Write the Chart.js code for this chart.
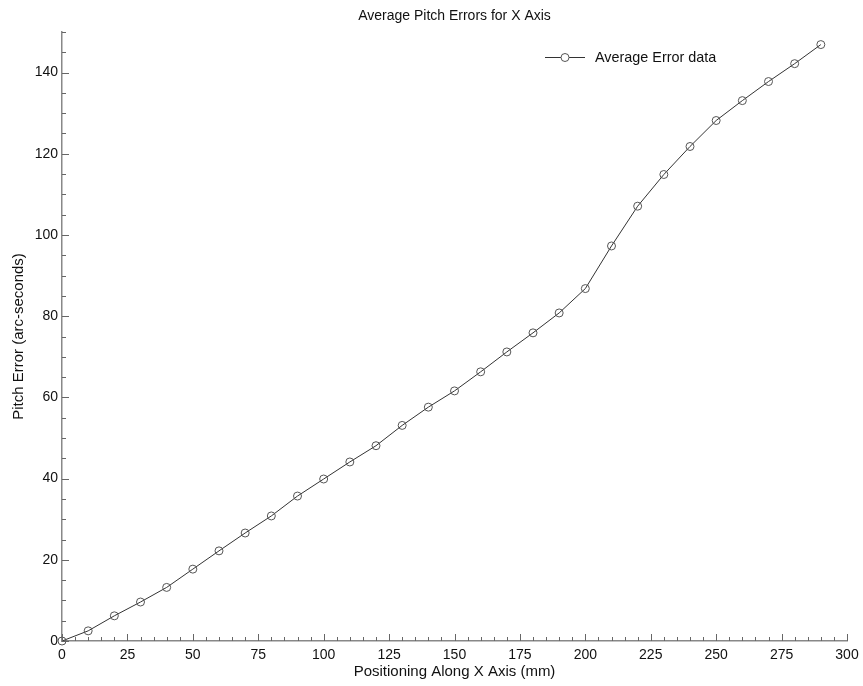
<!DOCTYPE html>
<html>
<head>
<meta charset="utf-8">
<script src="https://cdn.jsdelivr.net/npm/chart.js@4/dist/chart.umd.min.js"></script>
<style>
html,body{margin:0;padding:0;background:#fff;}
#wrap{width:863px;height:686px;}
</style>
</head>
<body>
<div id="wrap"><canvas id="pitchChart"></canvas></div>
<script>
// positions along the axis (mm) and averaged pitch error (arc-seconds)
const positions = [0,10,20,30,40,50,60,70,80,90,100,110,120,130,140,150,160,170,180,190,200,210,220,230,240,250,260,270,280,290];
const pitchErrors = [0,2.5,6.2,9.6,13.2,17.7,22.2,26.6,30.8,35.7,39.9,44.1,48.1,53.1,57.6,61.6,66.3,71.2,75.9,80.8,86.8,97.3,107.1,114.9,121.8,128.2,133.1,137.8,142.2,146.9];
const seriesName = "Average Error data";

const xMajor = 25;   // labelled x ticks
const yMajor = 20;   // labelled y ticks

const FONT = "'Liberation Sans', Arial, sans-serif";

// inward tick marks, long on labelled values, short in between
const tickMarks = {
id:"tickMarks",
afterDraw(chart){
const ctx = chart.ctx;
const a = chart.chartArea;
const xs = chart.scales.x, ys = chart.scales.y;
ctx.save();
ctx.strokeStyle = "#666";
ctx.lineWidth = 1;
ctx.beginPath();
xs.ticks.forEach(t=>{
let px = Math.round(xs.getPixelForValue(t.value)) + 0.5;
let len = (t.value % xMajor === 0) ? 7 : 4;
ctx.moveTo(px, a.bottom);
ctx.lineTo(px, a.bottom - len);
});
ys.ticks.forEach(t=>{
let py = Math.round(ys.getPixelForValue(t.value)) + 0.5;
let len = (t.value % yMajor === 0) ? 7 : 4;
ctx.moveTo(a.left, py);
ctx.lineTo(a.left + len, py);
});
ctx.stroke();
ctx.restore();
}
};

// legend sample in the upper right of the plot
const boxLegend = {
id:"boxLegend",
afterDraw(chart){
const ctx = chart.ctx;
const a = chart.chartArea;
const ds = chart.data.datasets[0];
let x0 = a.right - 302, y = a.top + 25;
ctx.save();
ctx.strokeStyle = ds.borderColor;
ctx.lineWidth = 1;
ctx.beginPath();
ctx.moveTo(x0, y + 0.5);
ctx.lineTo(x0 + 40, y + 0.5);
ctx.stroke();
ctx.fillStyle = "#fff";
ctx.strokeStyle = ds.pointBorderColor;
ctx.beginPath();
ctx.arc(x0 + 20, y + 0.5, ds.pointRadius, 0, Math.PI*2);
ctx.fill();
ctx.stroke();
ctx.fillStyle = "#111";
ctx.font = "14.4px " + FONT;
ctx.textBaseline = "middle";
ctx.textAlign = "left";
ctx.fillText(ds.label, x0 + 50, y + 1);
ctx.restore();
}
};

new Chart(document.getElementById("pitchChart"),{
type:"line",
data:{
datasets:[{
label:seriesName,
data:positions.map((p,i)=>({x:p,y:pitchErrors[i]})),
borderColor:"#333",
borderWidth:1,
pointRadius:4,
pointBorderColor:"#555",
pointBorderWidth:1,
pointBackgroundColor:"rgba(0,0,0,0)",
pointHoverRadius:4,
tension:0,
clip:false
}]
},
options:{
responsive:true,
maintainAspectRatio:false,
animation:false,
layout:{padding:{left:0,right:0,top:0,bottom:0}},
plugins:{
legend:{display:false},
tooltip:{enabled:false},
title:{
display:true,
text:"Average Pitch Errors for X Axis",
fullSize:false,
color:"#111",
font:{family:FONT,size:14,weight:"normal"},
padding:{top:8,bottom:7.2}
}
},
scales:{
x:{
type:"linear",
min:0,max:300,
afterFit(s){ s.height = 45; s.paddingRight = 16; s.paddingLeft = 0; },
ticks:{
stepSize:5,
autoSkip:false,
maxRotation:0,
color:"#111",
padding:6,
font:{family:FONT,size:14},
callback:v=> v % xMajor === 0 ? v : ""
},
grid:{display:false,drawTicks:false},
border:{display:true,color:"#888",width:1.5},
title:{
display:true,
text:"Positioning Along X Axis (mm)",
color:"#111",
font:{family:FONT,size:15},
padding:{top:0,bottom:5}
}
},
y:{
min:0,max:150,
afterFit(s){ s.width = 62; },
ticks:{
stepSize:5,
autoSkip:false,
color:"#111",
padding:4,
font:{family:FONT,size:14},
callback:v=> v % yMajor === 0 ? v : ""
},
grid:{display:false,drawTicks:false},
border:{display:true,color:"#888",width:1.5},
title:{
display:true,
text:"Pitch Error (arc-seconds)",
color:"#111",
font:{family:FONT,size:15},
padding:{top:9.5,bottom:0}
}
}
}
},
plugins:[tickMarks,boxLegend]
});
</script>
</body>
</html>
